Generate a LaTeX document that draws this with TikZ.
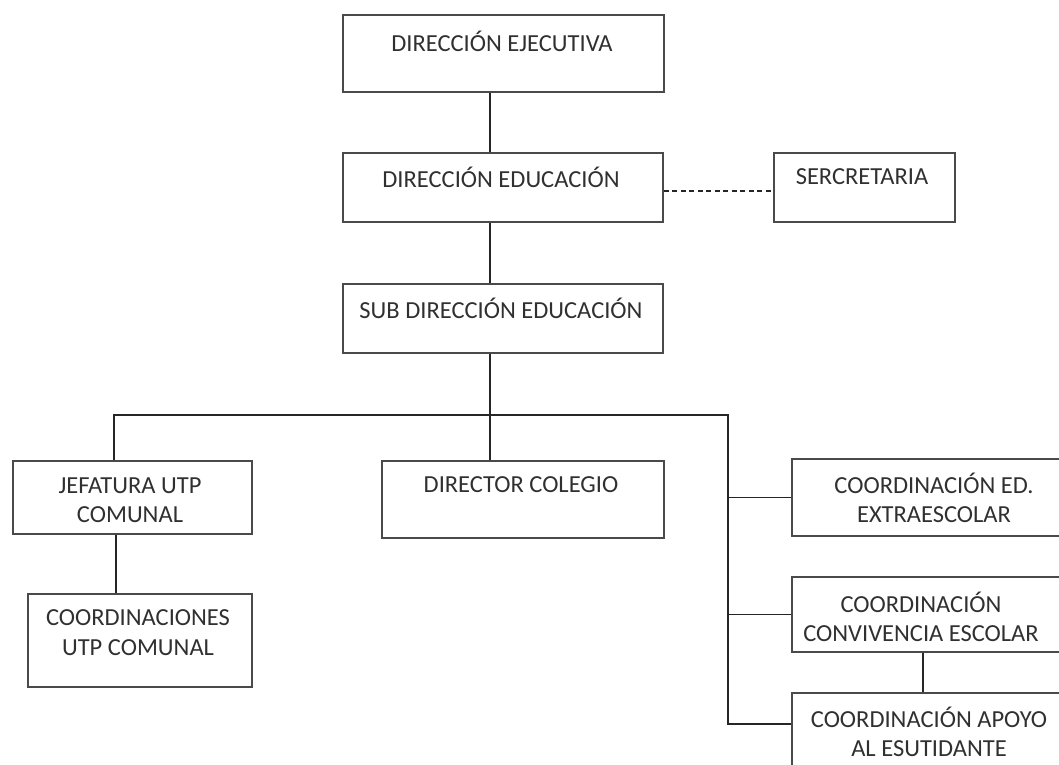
\documentclass[tikz,border=0pt]{standalone}
\usepackage{fontspec}
\setmainfont{Carlito}
\definecolor{boxline}{HTML}{4A4A4A}
\definecolor{txtcol}{HTML}{303030}
\tikzset{
  orgbox/.style={draw=boxline, line width=1.8pt, rectangle, inner sep=0pt, anchor=north west},
  orgtxt/.style={text=txtcol, font=\fontsize{24.5}{29.5}\selectfont, align=center, inner sep=0pt},
  conn/.style={draw=black!85, line width=1.3pt},
}
\begin{document}
\begin{tikzpicture}[x=1pt,y=-1pt]
\useasboundingbox (0,0) rectangle (1059,764);
\clip (0,0) rectangle (1059,764);
% boxes
\node[orgbox, minimum width=321pt, minimum height=77pt] (b1) at (342,14) {};
\node[orgbox, minimum width=320pt, minimum height=69pt] (b2) at (342,152) {};
\node[orgbox, minimum width=181pt, minimum height=69pt] (sec) at (773,152) {};
\node[orgbox, minimum width=320pt, minimum height=69pt] (b3) at (342,283) {};
\node[orgbox, minimum width=239pt, minimum height=73pt] (jef) at (12,460) {};
\node[orgbox, minimum width=224pt, minimum height=93pt] (cutp) at (27,593) {};
\node[orgbox, minimum width=282pt, minimum height=77pt] (dir) at (381,460) {};
\node[orgbox, minimum width=290pt, minimum height=77pt] (ced) at (791,458) {};
\node[orgbox, minimum width=290pt, minimum height=75pt] (ccv) at (791,576) {};
\node[orgbox, minimum width=290pt, minimum height=100pt] (cap) at (791,692) {};
% texts
\node[orgtxt] (t1) at (502,41) {DIRECCIÓN EJECUTIVA};
\node[orgtxt] (t2) at (501,177) {DIRECCIÓN EDUCACIÓN};
\node[orgtxt] (tsec) at (862,177) {SERCRETARIA};
\node[orgtxt] (t3) at (501,308) {SUB DIRECCIÓN EDUCACIÓN};
\node[orgtxt] (tjef) at (130,500) {JEFATURA UTP\\COMUNAL};
\node[orgtxt] (tcutp) at (138,632.5) {COORDINACIONES\\UTP COMUNAL};
\node[orgtxt] (tdir) at (521,485) {DIRECTOR COLEGIO};
\node[orgtxt] (tced) at (934,498) {COORDINACIÓN ED.\\EXTRAESCOLAR};
\node[orgtxt] (tccv) at (921,617) {COORDINACIÓN\\CONVIVENCIA ESCOLAR};
\node[orgtxt] (tcap) at (929,732) {COORDINACIÓN APOYO\\AL ESUTIDANTE};
% helper coordinates
\coordinate (trunk) at (490,0);
\coordinate (busL) at (114,415);
\coordinate (busR) at (728,415);
\coordinate (jefx) at (116,0);
\coordinate (ccvx) at (923,0);
\coordinate (dash) at (0,191);
\coordinate (rA) at (728,724);
% connectors
\draw[conn] (b1.south -| trunk) -- (b2.north -| trunk);
\draw[conn] (b2.south -| trunk) -- (b3.north -| trunk);
\draw[conn, dashed, dash pattern=on 5pt off 3.5pt, line width=1.2pt] (b2.east |- dash) -- (sec.west |- dash);
\draw[conn] (b3.south -| trunk) -- (busL -| trunk);
\draw[conn] (jef.north -| busL) -- (busL) -- (busR) -- (rA) -- (rA -| cap.west);
\draw[conn] (busL -| trunk) -- (dir.north -| trunk);
\draw[conn] (jef.south -| jefx) -- (cutp.north -| jefx);
\draw[conn] (busR |- ced.west) -- (ced.west);
\draw[conn] (busR |- ccv.west) -- (ccv.west);
\draw[conn] (ccv.south -| ccvx) -- (cap.north -| ccvx);
\end{tikzpicture}
\end{document}
